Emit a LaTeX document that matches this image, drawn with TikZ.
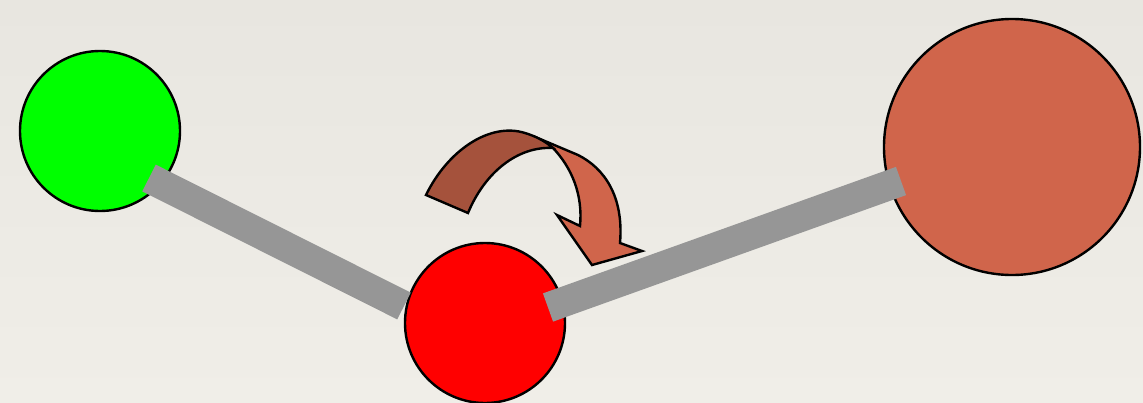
\documentclass[tikz,border=0pt]{standalone}
\usepackage{xcolor}
\definecolor{papertop}{HTML}{E8E6E0}
\definecolor{paperbottom}{HTML}{F0EEE8}
\definecolor{brickcolor}{HTML}{D0654B}
\definecolor{darkbrickcolor}{HTML}{A5523C}
\definecolor{rodcolor}{HTML}{969696}
\begin{document}
\begin{tikzpicture}[
    x=1pt, y=-1pt,
    ball/.style={circle, draw=black, line width=2.4pt, inner sep=0pt},
    rod/.style={draw=rodcolor, line width=30pt},
    arrowpart/.style={draw=black, line width=2.4pt, line join=miter}
]
\shade[top color=papertop, bottom color=paperbottom] (0,0) rectangle (1143,402);
\useasboundingbox (0,0) rectangle (1143,402);
\node (green) [ball, fill=green, minimum size=160pt] at (100,131) {};
\node (red) [ball, fill=red, minimum size=160pt] at (485,323) {};
\node (big) [ball, fill=brickcolor, minimum size=256pt] at (1012,147) {};
\coordinate (greenend) at (149,178);
\coordinate (redend) at (404,306);
\coordinate (redstart) at (548,307.5);
\coordinate (bigend) at (901,181);
\draw[rod] (greenend) -- (redend);
\draw[rod] (redstart) -- (bigend);
% curved arrow
\draw[arrowpart, fill=brickcolor] (533,136) -- (578,155) .. controls (604,168) and (624,196) .. (620,243)
    -- (642,251) -- (592,265) -- (557,215) -- (580,226)
    .. controls (583,195) and (572,168) .. (553,148) -- cycle;
\draw[arrowpart, fill=darkbrickcolor] (426,195) .. controls (448,150) and (490,122) .. (525,133)
    .. controls (535,136) and (545,141) .. (553,148) .. controls (518,146) and (485,172) .. (468,213) -- cycle;
\end{tikzpicture}
\end{document}
